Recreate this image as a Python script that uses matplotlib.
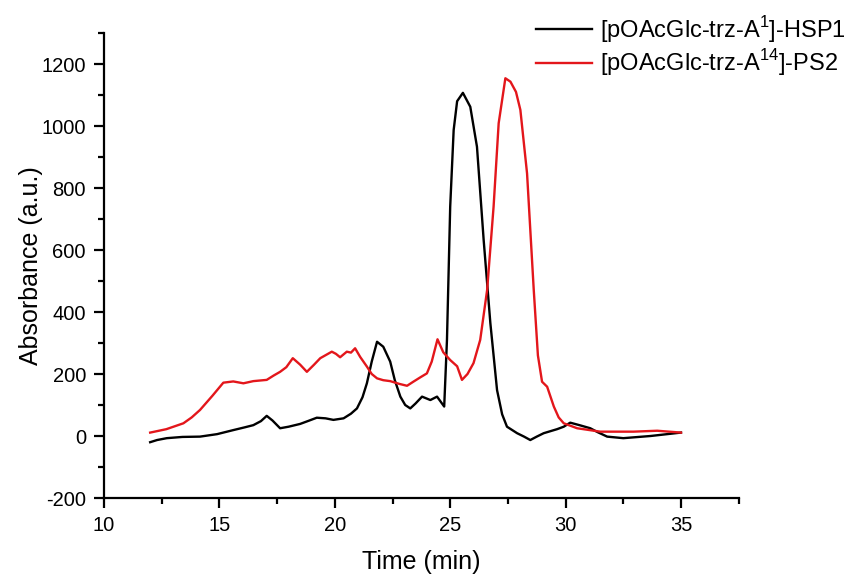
import matplotlib
matplotlib.use("Agg")
import matplotlib.pyplot as plt
from matplotlib.ticker import MultipleLocator

plt.rcParams['font.family'] = ['Liberation Sans', 'DejaVu Sans']
plt.rcParams['mathtext.fontset'] = 'custom'
plt.rcParams['mathtext.rm'] = 'Liberation Sans'
plt.rcParams['axes.unicode_minus'] = False

# HSP1 (black)
hsp1_t = [12.0, 12.3, 12.72, 13.4, 14.16, 14.9, 15.6, 16.1, 16.47, 16.8, 17.05, 17.3, 17.63, 18.0,
          18.5, 18.9, 19.22, 19.6, 19.94, 20.38, 20.7, 20.96,
          21.2, 21.39, 21.6, 21.83, 22.1, 22.4, 22.6, 22.84, 23.05, 23.27, 23.5, 23.78, 24.14,
          24.43, 24.74, 24.86, 25.0, 25.15, 25.3, 25.55, 25.87, 26.16, 26.45, 26.74, 27.03,
          27.25, 27.46, 27.9, 28.2, 28.47, 28.75, 29.05, 29.63, 29.92, 30.2, 30.6, 31.07,
          31.4, 31.8, 32.5, 33.68, 35.0]
hsp1_a = [-20, -13, -7, -3, -2, 6, 19, 28, 35, 48, 65, 50, 25, 30,
          39, 50, 59, 57, 52, 57, 72, 89,
          125, 170, 240, 304, 288, 240, 180, 127, 100, 89, 105, 127, 116,
          127, 95, 310, 740, 987, 1080, 1107, 1062, 933, 632, 364, 148,
          70, 30, 9, -2, -13, -2, 9, 22, 30, 43, 35, 25,
          12, -2, -7, 0, 11]

# PS2 (red)
ps2_t = [12.0, 12.7, 13.44, 13.8, 14.16, 14.7, 15.17, 15.6, 16.04, 16.47, 17.05, 17.35, 17.63,
         17.9, 18.18, 18.5, 18.79, 19.1, 19.37, 19.87, 20.05, 20.23, 20.52, 20.7, 20.88,
         21.1, 21.39, 21.6, 21.83, 22.1, 22.4, 22.8, 23.13, 23.4, 23.7, 23.99, 24.2, 24.45,
         24.7, 25.0, 25.3, 25.51, 25.75, 26.01, 26.3, 26.6, 26.88, 27.1, 27.39, 27.61,
         27.85, 28.04, 28.33, 28.62, 28.8, 28.98, 29.2, 29.49, 29.7, 29.92, 30.5, 31.5,
         32.94, 33.97, 35.0]
ps2_a = [11, 22, 41, 60, 84, 130, 172, 176, 170, 177, 181, 195, 207,
         222, 251, 230, 207, 230, 251, 272, 265, 254, 272, 269, 283,
         255, 224, 200, 186, 180, 177, 168, 162, 175, 189, 202, 240, 312,
         270, 245, 225, 181, 200, 235, 310, 471, 740, 1009, 1154, 1143,
         1110, 1052, 847, 471, 260, 175, 159, 95, 60, 41, 25, 14,
         14, 17, 11]

labels = [r'[pOAcGlc-trz-A$^{1}$]-HSP1', r'[pOAcGlc-trz-A$^{14}$]-PS2']

fig = plt.figure(figsize=(8.57, 5.75), dpi=100)
ax = fig.add_axes([104/857, 77/575, (738.7-104)/857, (498-33)/575])
l1, = ax.plot(hsp1_t, hsp1_a, color='black', lw=1.7, label=labels[0])
l2, = ax.plot(ps2_t, ps2_a, color='#e3161b', lw=1.7, label=labels[1])

ax.set_xlim(10, 37.5)
ax.set_ylim(-200, 1300)
ax.xaxis.set_major_locator(MultipleLocator(5))
ax.xaxis.set_minor_locator(MultipleLocator(2.5))
ax.yaxis.set_major_locator(MultipleLocator(200))
ax.yaxis.set_minor_locator(MultipleLocator(100))
for s in ['top', 'right']:
    ax.spines[s].set_visible(False)
for s in ['left', 'bottom']:
    ax.spines[s].set_linewidth(1.6)
ax.tick_params(which='major', direction='out', length=7, width=1.6, labelsize=14.5, pad=6)
ax.tick_params(which='minor', direction='out', length=4, width=1.6)
ax.set_xlabel('Time (min)', fontsize=18, labelpad=11)
ax.set_ylabel('Absorbance (a.u.)', fontsize=18, labelpad=-1)

fig.legend(handles=[l1, l2], loc='upper left', bbox_to_anchor=(524/857, 1 - 2/575),
           frameon=False, fontsize=17, handlelength=2.4, handletextpad=0.3,
           borderpad=0, labelspacing=0.1)

fig.savefig('out.png', dpi=100)
